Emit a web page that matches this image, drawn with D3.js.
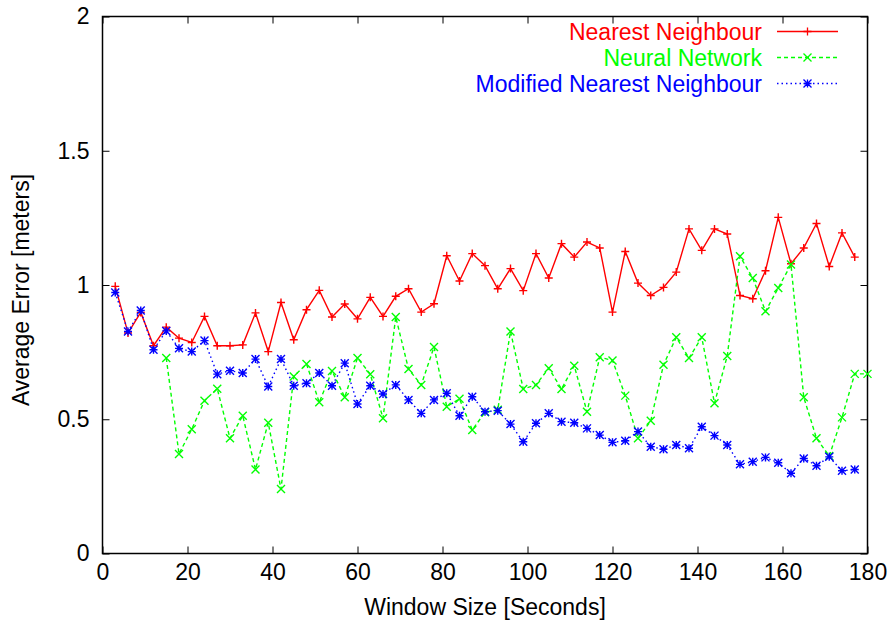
<!DOCTYPE html>
<html lang="en">
<head>
    <meta charset="UTF-8">
    <title>Average Error vs Window Size</title>
    <script src="https://cdn.jsdelivr.net/npm/d3@7"></script>
    <style>
        body { margin: 0; background: #fff; }
        text { font-family: 'Liberation Sans', Arial, sans-serif; }
    </style>
</head>
<body>
<div id="chart"></div>
<script>
    // window sizes (seconds)
    const windowSizes = [3, 6, 9, 12, 15, 18, 21, 24, 27, 30, 33, 36, 39, 42, 45, 48, 51, 54, 57, 60,
        63, 66, 69, 72, 75, 78, 81, 84, 87, 90, 93, 96, 99, 102, 105, 108, 111, 114, 117, 120,
        123, 126, 129, 132, 135, 138, 141, 144, 147, 150, 153, 156, 159, 162, 165, 168, 171, 174, 177]
    const nnWindowSizes = [15, 18, 21, 24, 27, 30, 33, 36, 39, 42, 45, 48, 51, 54, 57, 60,
        63, 66, 69, 72, 75, 78, 81, 84, 87, 90, 93, 96, 99, 102, 105, 108, 111, 114, 117, 120,
        123, 126, 129, 132, 135, 138, 141, 144, 147, 150, 153, 156, 159, 162, 165, 168, 171, 174, 177, 180]

    const nearestNeighbour = [0.995, 0.821, 0.898, 0.774, 0.843, 0.802, 0.786, 0.883, 0.774, 0.774,
        0.777, 0.896, 0.752, 0.935, 0.796, 0.908, 0.980, 0.881, 0.929, 0.874,
        0.954, 0.883, 0.958, 0.986, 0.899, 0.930, 1.109, 1.015, 1.117, 1.072,
        0.986, 1.061, 0.979, 1.117, 1.026, 1.154, 1.104, 1.160, 1.138, 0.899,
        1.125, 1.007, 0.961, 0.991, 1.048, 1.209, 1.129, 1.209, 1.190, 0.961,
        0.949, 1.053, 1.252, 1.079, 1.138, 1.229, 1.069, 1.194, 1.104]

    const neuralNetwork = [0.728, 0.371, 0.463, 0.569, 0.614, 0.429, 0.513, 0.313, 0.487, 0.240,
        0.659, 0.706, 0.563, 0.680, 0.582, 0.728, 0.668, 0.504, 0.881, 0.687,
        0.628, 0.769, 0.547, 0.576, 0.460, 0.526, 0.535, 0.827, 0.613, 0.628,
        0.690, 0.613, 0.699, 0.528, 0.731, 0.719, 0.588, 0.429, 0.494, 0.703,
        0.805, 0.728, 0.805, 0.560, 0.736, 1.107, 1.026, 0.902, 0.989, 1.076,
        0.582, 0.429, 0.363, 0.507, 0.669, 0.669]

    const modifiedNN = [0.972, 0.827, 0.905, 0.759, 0.829, 0.764, 0.752, 0.793, 0.668, 0.681,
        0.672, 0.724, 0.622, 0.724, 0.625, 0.634, 0.672, 0.625, 0.709, 0.557,
        0.625, 0.594, 0.628, 0.572, 0.522, 0.572, 0.597, 0.513, 0.584, 0.528,
        0.532, 0.482, 0.416, 0.485, 0.522, 0.491, 0.487, 0.466, 0.441, 0.414,
        0.420, 0.454, 0.398, 0.388, 0.404, 0.392, 0.472, 0.439, 0.404, 0.332,
        0.342, 0.358, 0.338, 0.299, 0.354, 0.327, 0.360, 0.308, 0.313]

    const xTicks = [0, 20, 40, 60, 80, 100, 120, 140, 160, 180]
    const yTicks = [0, 0.5, 1, 1.5, 2]

    const width = 888
    const height = 626
    const margin = { top: 16.5, right: 20.5, bottom: 72.5, left: 102.5 }
    const fontSize = 23

    const series = [
        { name: 'Nearest Neighbour', xs: windowSizes, ys: nearestNeighbour, color: '#ff0000', dash: null, marker: 'plus' },
        { name: 'Neural Network', xs: nnWindowSizes, ys: neuralNetwork, color: '#00ff00', dash: '4,3', marker: 'cross' },
        { name: 'Modified Nearest Neighbour', xs: windowSizes, ys: modifiedNN, color: '#0000ff', dash: '1.5,3', marker: 'star' }
    ]

    const xScale = d3.scaleLinear().domain([0, 180]).range([margin.left, width - margin.right])
    const yScale = d3.scaleLinear().domain([0, 2]).range([height - margin.bottom, margin.top])

    const svg = d3.select('#chart').append('svg')
        .attr('width', width)
        .attr('height', height)

    svg.append('rect').attr('width', width).attr('height', height).attr('fill', '#fff')

    // marker shapes, gnuplot style
    function markerPath(type, s) {
        const plus = `M${-s},0H${s}M0,${-s}V${s}`
        const cross = `M${-s},${-s}L${s},${s}M${-s},${s}L${s},${-s}`
        if (type === 'plus') return plus
        if (type === 'cross') return cross
        return plus + cross
    }

    // axes with inward ticks, mirrored on top/right
    const xAxis = d3.axisBottom(xScale).tickValues(xTicks).tickSizeInner(-7).tickSizeOuter(0).tickPadding(10)
    const yAxis = d3.axisLeft(yScale).tickValues(yTicks).tickSizeInner(-7).tickSizeOuter(0).tickPadding(13)
        .tickFormat(d3.format('~g'))

    svg.append('g')
        .attr('transform', `translate(0, ${height - margin.bottom})`)
        .call(xAxis)
    svg.append('g')
        .attr('transform', `translate(${margin.left}, 0)`)
        .call(yAxis)
    svg.append('g')
        .attr('transform', `translate(0, ${margin.top})`)
        .call(d3.axisTop(xScale).tickValues(xTicks).tickSizeInner(-7).tickSizeOuter(0).tickFormat(''))
    svg.append('g')
        .attr('transform', `translate(${width - margin.right}, 0)`)
        .call(d3.axisRight(yScale).tickValues(yTicks).tickSizeInner(-7).tickSizeOuter(0).tickFormat(''))

    svg.selectAll('.domain').remove()
    svg.selectAll('.tick line').attr('stroke', '#000').attr('stroke-width', 1)
    svg.selectAll('.tick text')
        .attr('font-size', fontSize)
        .attr('font-family', "'Liberation Sans', Arial, sans-serif")
        .attr('fill', '#000')

    svg.append('rect')
        .attr('x', margin.left)
        .attr('y', margin.top)
        .attr('width', width - margin.left - margin.right)
        .attr('height', height - margin.top - margin.bottom)
        .attr('fill', 'none')
        .attr('stroke', '#000')
        .attr('stroke-width', 1.5)

    svg.append('text')
        .attr('x', (margin.left + width - margin.right) / 2)
        .attr('y', 615)
        .attr('text-anchor', 'middle')
        .attr('font-size', fontSize)
        .text('Window Size [Seconds]')

    svg.append('text')
        .attr('transform', 'translate(29, 290) rotate(-90)')
        .attr('text-anchor', 'middle')
        .attr('font-size', fontSize)
        .text('Average Error [meters]')

    const line = d3.line()
        .x(d => xScale(d[0]))
        .y(d => yScale(d[1]))

    const plot = svg.append('g')

    series.forEach(s => {
        const pts = s.xs.map((x, i) => [x, s.ys[i]])
        plot.append('path')
            .datum(pts)
            .attr('d', line)
            .attr('fill', 'none')
            .attr('stroke', s.color)
            .attr('stroke-width', 1.4)
            .attr('stroke-dasharray', s.dash)

        plot.selectAll(null)
            .data(pts)
            .enter()
            .append('path')
            .attr('transform', d => `translate(${xScale(d[0])}, ${yScale(d[1])})`)
            .attr('d', markerPath(s.marker, 4))
            .attr('fill', 'none')
            .attr('stroke', s.color)
            .attr('stroke-width', 1.4)
    })

    // legend (rows spaced so the text boxes do not touch)
    const legend = svg.append('g')
    const legendY = [31.5, 57.5, 83.5]
    series.forEach((s, i) => {
        legend.append('text')
            .attr('x', 762)
            .attr('y', legendY[i])
            .attr('dy', '0.36em')
            .attr('text-anchor', 'end')
            .attr('font-size', fontSize)
            .attr('fill', s.color)
            .text(s.name)
        legend.append('line')
            .attr('x1', 777).attr('x2', 838)
            .attr('y1', legendY[i]).attr('y2', legendY[i])
            .attr('stroke', s.color)
            .attr('stroke-width', 1.3)
            .attr('stroke-dasharray', s.dash)
        legend.append('path')
            .attr('transform', `translate(807.5, ${legendY[i]})`)
            .attr('d', markerPath(s.marker, 4))
            .attr('fill', 'none')
            .attr('stroke', s.color)
            .attr('stroke-width', 1.3)
    })
</script>
</body>
</html>
